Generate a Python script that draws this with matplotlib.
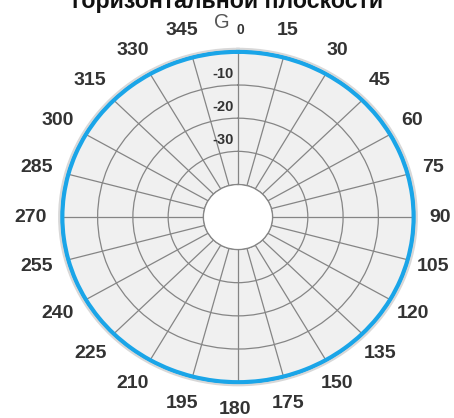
import numpy as np
import matplotlib
matplotlib.use("Agg")
import matplotlib.pyplot as plt

# ── Data ───────────────────────────────────────────────────────────────────────
TITLE = "горизонтальной плоскости"
angles_deg = [0, 15, 30, 45, 60, 75, 90, 105, 120, 135, 150, 165, 180,
              195, 210, 225, 240, 255, 270, 285, 300, 315, 330, 345, 360]
gain_db = [0, 0, 0, 0, 0, 0, 0, 0, 0, 0, 0, 0, 0,
           0, 0, 0, 0, 0, 0, 0, 0, 0, 0, 0, 0]
tick_deg = [0, 15, 30, 45, 60, 75, 90, 105, 120, 135, 150, 165,
            180, 195, 210, 225, 240, 255, 270, 285, 300, 315, 330, 345]
tick_labels = ["", "15", "30", "45", "60", "75", "90", "105", "120", "135",
               "150", "175", "180", "195", "210", "225", "240", "255", "270",
               "285", "300", "315", "330", "345"]
ring_db = [-40, -30, -20, -10, 0]
ring_labels = ["-10", "-20", "-30"]
ring_label_db = [-10, -20, -30]

plt.rcParams["font.family"] = ["Liberation Sans", "DejaVu Sans"]

fig = plt.figure(figsize=(4.54, 4.18), dpi=100)
ax = fig.add_axes([0.1319, 0.0801, 0.7846, 0.8014], projection="polar")
ax.set_aspect("auto")  # reference pattern is slightly squashed

ax.set_theta_zero_location("N")
ax.set_theta_direction(-1)
ax.set_ylim(-40, 0.7)
ax.set_rorigin(-49.8)
ax.set_facecolor("#f0f0f0")

ax.set_thetagrids(tick_deg, [""] * len(tick_deg))
ax.set_rgrids(ring_db, [""] * len(ring_db))
ax.grid(True, color="#858585", linewidth=0.9)

for name, sp in ax.spines.items():
    if name == "polar":
        sp.set_color("#d8d8d8")
        sp.set_linewidth(2.6)
    elif name == "inner":
        sp.set_color("#858585")
        sp.set_linewidth(0.9)

# gain pattern (omni, 0 dB); segments drawn as arcs
line, = ax.plot(np.deg2rad(angles_deg), gain_db, color="#1aa5e8",
                linewidth=3.0, zorder=3)
line.get_path()._interpolation_steps = 20

# angle labels just outside the outer ring
for deg, lab in zip(tick_deg, tick_labels):
    if not lab:
        continue
    ax.annotate(lab, xy=(np.deg2rad(deg), 8.3), xytext=(-3, 0),
                textcoords="offset pixels", ha="center", va="center",
                fontsize=14, fontweight="bold", color="#333333",
                annotation_clip=False)

for lab, r in zip(ring_labels, ring_label_db):
    ax.annotate(lab, xy=(0, r), xytext=(-4, 11), textcoords="offset pixels",
                ha="right", va="center", fontsize=10.5, fontweight="bold",
                color="#333333")

# G0 label at the top
fig.text(222 / 454, 1 - 22 / 418, "G", ha="center", va="center",
         fontsize=14.5, color="#555555")
fig.text(240 / 454, 1 - 30 / 418, "0", ha="center", va="center",
         fontsize=10, fontweight="bold", color="#333333")

# title (top is cut off in the reference)
fig.text(0.501, 1.0 - 8 / 418, TITLE, ha="center", va="baseline",
         fontsize=16.7, fontweight="bold", color="#111111")

fig.savefig("out.png", dpi=100)
